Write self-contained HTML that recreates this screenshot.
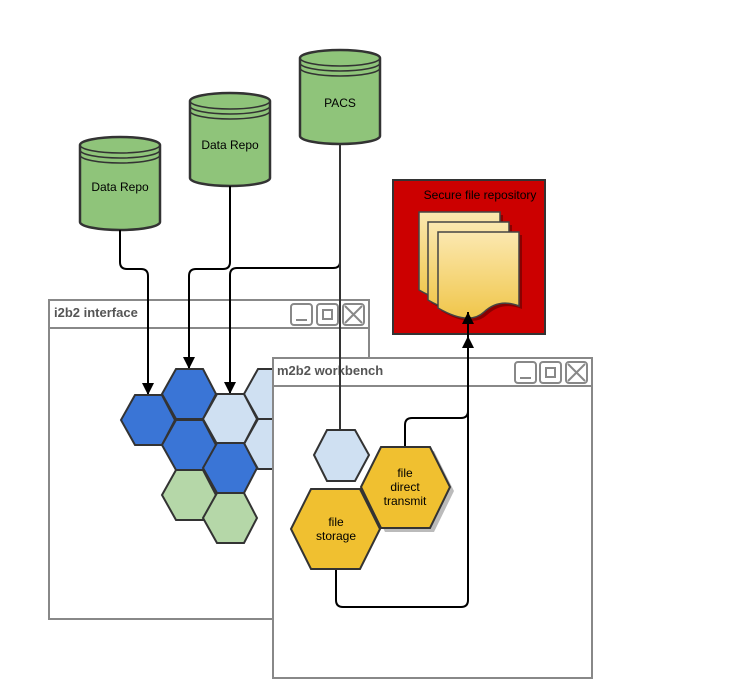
<!DOCTYPE html>
<html><head><meta charset="utf-8"><style>
body{margin:0;background:#fff;width:755px;height:698px;overflow:hidden}
svg{display:block}
text{font-family:"Liberation Sans",Arial,sans-serif}
</style></head><body>
<svg width="755" height="698" viewBox="0 0 755 698">
<defs>
<linearGradient id="doc" x1="0" y1="0" x2="0" y2="1"><stop offset="0" stop-color="#fbe8b0"/><stop offset="1" stop-color="#f0c64a"/></linearGradient>
<marker id="ar" markerWidth="14" markerHeight="14" refX="12" refY="6" orient="auto" markerUnits="userSpaceOnUse"><path d="M0,0 L12,6 L0,12 z" fill="#000"/></marker>
</defs>
<g stroke="#333" stroke-width="2.5" fill="#8fc47a">
<path d="M80,145 A40,8 0 0 1 160,145 V222 A40,8 0 0 1 80,222 Z"/>
<path d="M80,145 A40,8 0 0 0 160,145 M80,150 A40,8 0 0 0 160,150 M80,155 A40,8 0 0 0 160,155" fill="none" stroke-width="1.5"/>
<path d="M190,101 A40,8 0 0 1 270,101 V178 A40,8 0 0 1 190,178 Z"/>
<path d="M190,101 A40,8 0 0 0 270,101 M190,106 A40,8 0 0 0 270,106 M190,111 A40,8 0 0 0 270,111" fill="none" stroke-width="1.5"/>
<path d="M300,58 A40,8 0 0 1 380,58 V136 A40,8 0 0 1 300,136 Z"/>
<path d="M300,58 A40,8 0 0 0 380,58 M300,63 A40,8 0 0 0 380,63 M300,68 A40,8 0 0 0 380,68" fill="none" stroke-width="1.5"/>
</g>
<g font-size="12" fill="#000" text-anchor="middle">
<text x="120" y="191">Data Repo</text>
<text x="230" y="149">Data Repo</text>
<text x="340" y="107">PACS</text>
</g>
<g stroke="#888" stroke-width="2" fill="#fff">
<rect x="49" y="300" width="320" height="319"/>
<line x1="49" y1="328" x2="369" y2="328"/>
<rect x="291" y="304" width="21" height="21" rx="3"/><rect x="317" y="304" width="21" height="21" rx="3"/><rect x="343" y="304" width="21" height="21" rx="3"/>
<rect x="323" y="310" width="9" height="9" fill="none"/>
<line x1="296" y1="320" x2="307" y2="320"/>
<path d="M345,306 L362,323 M362,306 L345,323" fill="none"/>
</g>
<text x="54" y="317" font-size="13" font-weight="bold" fill="#555">i2b2 interface</text>
<g fill="none" stroke="#000" stroke-width="2">
<path d="M120,230 V262 Q120,269 127,269 H141 Q148,269 148,276 V395" marker-end="url(#ar)"/>
<path d="M230,186 V262 Q230,269 223,269 H196 Q189,269 189,276 V369" marker-end="url(#ar)"/>
<path d="M340,144 V262 Q340,268 333,268 H237 Q230,268 230,275 V394" marker-end="url(#ar)"/>
</g>
<g stroke="#333" stroke-width="2">
<path d="M121,420 L135,395 L162,395 L175,420 L162,445 L135,445 Z" fill="#3a75d6"/>
<path d="M162,394 L176,369 L203,369 L216,394 L203,419 L176,419 Z" fill="#3a75d6"/>
<path d="M162,445 L176,420 L203,420 L216,445 L203,470 L176,470 Z" fill="#3a75d6"/>
<path d="M162,495 L176,470 L203,470 L216,495 L203,520 L176,520 Z" fill="#b5d7a8"/>
<path d="M244,394 L258,369 L285,369 L298,394 L285,419 L258,419 Z" fill="#cfe0f2"/>
<path d="M244,444 L258,419 L285,419 L298,444 L285,469 L258,469 Z" fill="#cfe0f2"/>
<path d="M203,419 L217,394 L244,394 L257,419 L244,444 L217,444 Z" fill="#cfe0f2"/>
<path d="M203,468 L217,443 L244,443 L257,468 L244,493 L217,493 Z" fill="#3a75d6"/>
<path d="M203,518 L217,493 L244,493 L257,518 L244,543 L217,543 Z" fill="#b5d7a8"/>
</g>
<g stroke="#888" stroke-width="2" fill="#fff">
<rect x="273" y="358" width="319" height="320"/>
<line x1="273" y1="386" x2="592" y2="386"/>
<rect x="515" y="362" width="21" height="21" rx="3"/><rect x="540" y="362" width="21" height="21" rx="3"/><rect x="566" y="362" width="21" height="21" rx="3"/>
<rect x="546" y="368" width="9" height="9" fill="none"/>
<line x1="520" y1="378" x2="531" y2="378"/>
<path d="M568,364 L585,381 M585,364 L568,381" fill="none"/>
</g>
<text x="277" y="375" font-size="13" font-weight="bold" fill="#555">m2b2 workbench</text>
<rect x="393" y="180" width="152" height="154" fill="#cc0000" stroke="#333" stroke-width="2"/>
<text x="480" y="199" font-size="12" fill="#000" text-anchor="middle">Secure file repository</text>
<g stroke="#444" stroke-width="1.5" fill="url(#doc)">
<path d="M422,212 H500 V290 Q480,280 465,295 Q450,308 422,290 Z" transform="translate(3,3)" fill="#8a0000" stroke="none"/>
<path d="M419,212 H500 V290 Q480,280 465,295 Q450,308 419,290 Z"/>
<path d="M428,222 H509 V300 Q489,290 474,305 Q459,318 428,300 Z" transform="translate(3,3)" fill="#8a0000" stroke="none"/>
<path d="M428,222 H509 V300 Q489,290 474,305 Q459,318 428,300 Z"/>
<path d="M438,232 H519 V306 Q499,298 484,312 Q469,326 438,308 Z" transform="translate(3,3)" fill="#8a0000" stroke="none"/>
<path d="M438,232 H519 V306 Q499,298 484,312 Q469,326 438,308 Z"/>
</g>
<g fill="none" stroke="#000" stroke-width="2">
<line x1="340" y1="144" x2="340" y2="431" stroke="#333"/>
<path d="M336,569 V600 Q336,607 343,607 H461 Q468,607 468,600 V336" marker-end="url(#ar)"/>
<path d="M405,447 V425 Q405,418 412,418 H461 Q468,418 468,411 V312" marker-end="url(#ar)"/>
</g>
<g stroke="#333" stroke-width="2">
<path d="M314,455 L327,430 L355,430 L369,455 L355,481 L327,481 Z" fill="#cfe0f2"/>
<path d="M365,491 L385,451 L434,451 L454,491 L434,532 L385,532 Z" fill="#bbb" stroke="none"/>
<path d="M361,487 L381,447 L430,447 L450,487 L430,528 L381,528 Z" fill="#f0c030"/>
<path d="M291,529 L311,489 L360,489 L380,529 L360,569 L311,569 Z" fill="#f0c030"/>
</g>
<g font-size="12" fill="#000" text-anchor="middle">
<text x="405" y="477">file</text><text x="405" y="491">direct</text><text x="405" y="505">transmit</text>
<text x="336" y="526">file</text><text x="336" y="540">storage</text>
</g>
</svg>
</body></html>
